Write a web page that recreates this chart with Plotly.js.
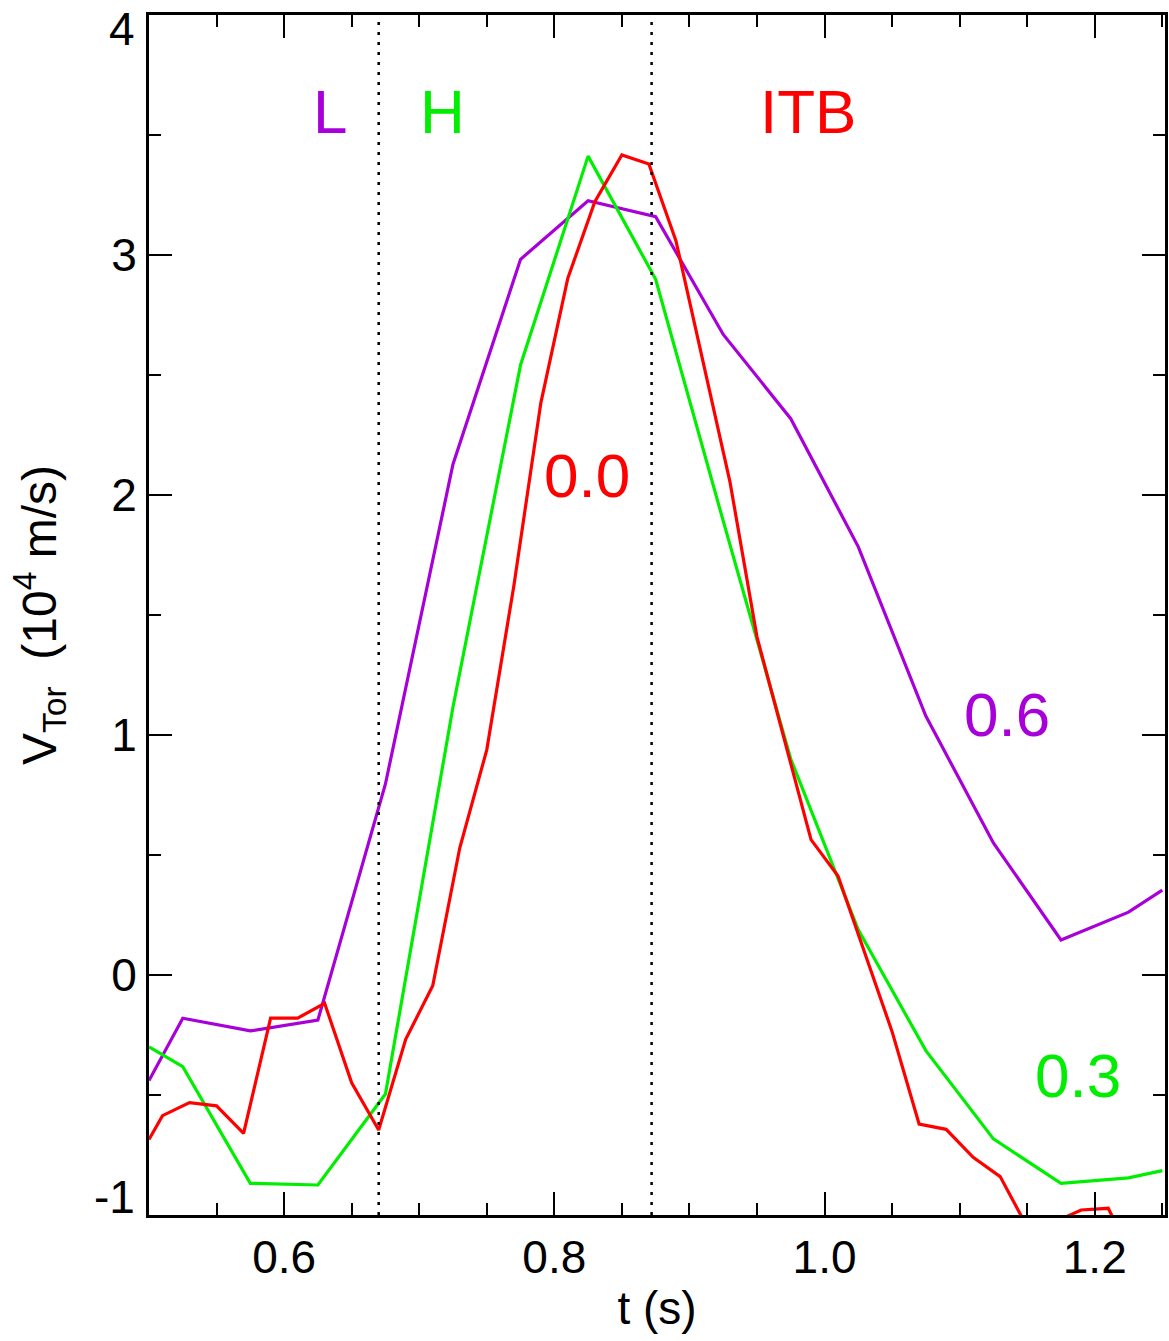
<!DOCTYPE html>
<html>
<head>
<meta charset="utf-8">
<script src="https://cdn.plot.ly/plotly-3.0.1.min.js"></script>
<style>html,body{margin:0;padding:0;background:#fff;}#chart{width:1169px;height:1341px;}</style>
</head>
<body>
<div id="chart"></div>
<script>
// rho = 0.6 (purple)
const tPurple = [0.5, 0.525, 0.575, 0.625, 0.675, 0.725, 0.775, 0.825, 0.875, 0.925, 0.975, 1.025, 1.075, 1.125, 1.175, 1.225, 1.25];
const vPurple = [-0.44, -0.18, -0.233, -0.188, 0.796, 2.128, 2.982, 3.226, 3.16, 2.669, 2.318, 1.784, 1.079, 0.55, 0.146, 0.262, 0.354];

// rho = 0.3 (green)
const tGreen = [0.5, 0.525, 0.575, 0.625, 0.675, 0.725, 0.775, 0.825, 0.875, 0.925, 0.975, 1.025, 1.075, 1.125, 1.175, 1.225, 1.25];
const vGreen = [-0.30, -0.382, -0.868, -0.875, -0.496, 1.117, 2.542, 3.412, 2.899, 1.892, 0.90, 0.188, -0.315, -0.683, -0.868, -0.845, -0.815];

// rho = 0.0 (red)
const tRed = [0.5, 0.51, 0.53, 0.55, 0.57, 0.59, 0.61, 0.63, 0.65, 0.67, 0.69, 0.71, 0.73, 0.75, 0.77, 0.79, 0.81, 0.83, 0.85, 0.87, 0.89, 0.91, 0.93, 0.95, 0.97, 0.99, 1.01, 1.03, 1.05, 1.07, 1.09, 1.11, 1.13, 1.15, 1.17, 1.19, 1.21, 1.23, 1.25];
const vRed = [-0.685, -0.586, -0.532, -0.545, -0.66, -0.18, -0.18, -0.118, -0.449, -0.646, -0.268, -0.045, 0.529, 0.938, 1.62, 2.383, 2.903, 3.222, 3.417, 3.379, 3.06, 2.554, 2.055, 1.409, 0.987, 0.564, 0.4125, 0.09, -0.236, -0.621, -0.643, -0.76, -0.84, -1.05, -1.03, -0.979, -0.972, -1.2, -1.3];

// phase boundaries (dotted lines)
const phaseBoundaries = [0.67, 0.872];

// axis ticks
const xTickVals = [0.6, 0.8, 1.0, 1.2];
const xTickText = ["0.6", "0.8", "1.0", "1.2"];
const yTickVals = [-1, 0, 1, 2, 3, 4];
const yTickText = ["-1", "0", "1", "2", "3", "4"];

// text labels
const labelText = ["L", "H", "ITB", "0.0", "0.6", "0.3"];
const labelX = [0.634, 0.7176, 0.988, 0.824, 1.135, 1.1875];
const labelY = [3.6, 3.6, 3.6, 2.083, 1.085, -0.417];
const labelColor = ["#a800d8", "#00ee00", "#ff0000", "#ff0000", "#a800d8", "#00ee00"];

const PURPLE = "#a800d8", GREEN = "#00ee00", RED = "#ff0000";
const FONT = "Liberation Sans, Arial, Helvetica, sans-serif";
const TICKFONT = {family: FONT, size: 46, color: "#000"};

const traces = [
  {x: tPurple, y: vPurple, mode: "lines", line: {color: PURPLE, width: 3.2}, hoverinfo: "skip"},
  {x: tGreen, y: vGreen, mode: "lines", line: {color: GREEN, width: 3.2}, hoverinfo: "skip"},
  {x: tRed, y: vRed, mode: "lines", line: {color: RED, width: 3.2}, hoverinfo: "skip"}
];

const shapes = phaseBoundaries.map(x => ({
  type: "line", xref: "x", yref: "paper", x0: x, x1: x, y0: 0, y1: 1,
  line: {color: "#000", width: 2.5, dash: "3px,7px"}, layer: "above"
}));

const annotations = labelText.map((t, i) => ({
  x: labelX[i], y: labelY[i], xref: "x", yref: "y", text: t, showarrow: false,
  font: {family: FONT, size: 62, color: labelColor[i]}, xanchor: "center", yanchor: "middle"
}));

// end tick labels of the y axis are drawn nudged inside the frame, as in the reference
const yMin = yTickVals[0], yMax = yTickVals[yTickVals.length - 1];
annotations.push({
  x: 0, xref: "paper", y: yMax, yref: "y", text: yTickText[yTickText.length - 1], showarrow: false,
  font: TICKFONT, xanchor: "right", yanchor: "top", xshift: -12, yshift: 14
});
annotations.push({
  x: 0, xref: "paper", y: yMin, yref: "y", text: yTickText[0], showarrow: false,
  font: TICKFONT, xanchor: "right", yanchor: "bottom", xshift: -12, yshift: -10
});
const yTickTextAxis = yTickText.map((t, i) => (i === 0 || i === yTickText.length - 1) ? "" : t);

const axisCommon = {
  showgrid: false, zeroline: false, showline: true, linecolor: "#000", linewidth: 3,
  mirror: "allticks", ticks: "inside", ticklen: 23, tickwidth: 2, tickcolor: "#000",
  ticklabeloverflow: "allow",
  tickfont: TICKFONT
};

const layout = {
  width: 1169, height: 1341,
  margin: {l: 149, r: 4, t: 15, b: 126},
  paper_bgcolor: "#fff", plot_bgcolor: "#fff",
  showlegend: false,
  xaxis: Object.assign({}, axisCommon, {
    range: [0.5, 1.252], tickmode: "array", tickvals: xTickVals, ticktext: xTickText,
    minor: {dtick: 0.05, tick0: 0.5, ticklen: 12, tickwidth: 2, tickcolor: "#000", ticks: "inside"},
    title: {text: "t (s)", font: {family: FONT, size: 46, color: "#000"}, standoff: 10}
  }),
  yaxis: Object.assign({}, axisCommon, {
    range: [yMin, yMax], tickmode: "array", tickvals: yTickVals, ticktext: yTickTextAxis,
    minor: {dtick: 0.5, tick0: 0, ticklen: 12, tickwidth: 2, tickcolor: "#000", ticks: "inside"},
    title: {text: "V<sub>Tor</sub>  (10<sup>4</sup> m/s)", font: {family: FONT, size: 48, color: "#000"}, standoff: 40}
  }),
  shapes: shapes,
  annotations: annotations
};

Plotly.newPlot("chart", traces, layout, {staticPlot: true, displayModeBar: false});
</script>
</body>
</html>
